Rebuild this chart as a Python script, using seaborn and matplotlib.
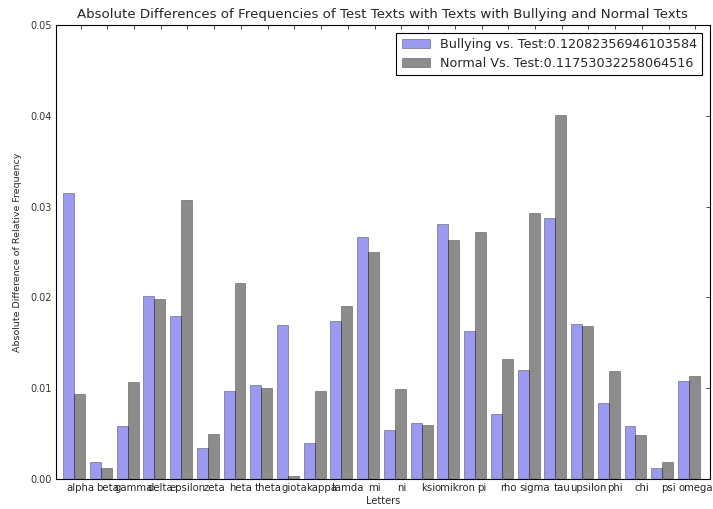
import pandas as pd
import matplotlib
matplotlib.use("Agg")
import matplotlib.pyplot as plt
import numpy as np
import seaborn as sns

letters = ['alpha', 'beta', 'gamma', 'delta', 'epsilon', 'zeta', 'heta', 'theta',
           'giota', 'kappa', 'lamda', 'mi', 'ni', 'ksi', 'omikron', 'pi', 'rho',
           'sigma', 'tau', 'upsilon', 'phi', 'chi', 'psi', 'omega']
bullying = [0.0315, 0.0019, 0.0058, 0.0201, 0.0180, 0.0034, 0.0097, 0.0104,
            0.0170, 0.0040, 0.0174, 0.0267, 0.0054, 0.0062, 0.0281, 0.0163,
            0.0072, 0.0120, 0.0287, 0.0171, 0.0084, 0.0058, 0.0012, 0.0108]
normal = [0.0094, 0.0012, 0.0107, 0.0198, 0.0307, 0.0050, 0.0216, 0.0100,
          0.0003, 0.0097, 0.0191, 0.0250, 0.0099, 0.0059, 0.0263, 0.0272,
          0.0132, 0.0293, 0.0401, 0.0168, 0.0119, 0.0048, 0.0019, 0.0113]
labels = ['Bullying vs. Test:0.12082356946103584', 'Normal Vs. Test:0.11753032258064516']

df = pd.DataFrame({'letter': letters * 2,
                   'diff': bullying + normal,
                   'series': [labels[0]] * len(letters) + [labels[1]] * len(letters)})

sns.set_style("white")
plt.rcParams['font.family'] = ['DejaVu Sans']

fig = plt.figure(figsize=(7.13, 5.09), dpi=100)
ax = fig.add_axes([0.0785, 0.059, 0.917, 0.892])

sns.barplot(data=df, x='letter', y='diff', hue='series', order=letters,
            palette={labels[0]: 'blue', labels[1]: 'black'}, alpha=0.45,
            width=0.82, edgecolor='black', linewidth=0.5, ax=ax)

ax.set_xlim(-0.68, 23.78)
ax.set_ylim(0, 0.05)
ax.set_xticks(np.arange(len(letters)) + 0.24)
ax.set_xticklabels(letters, fontsize=7.3)
ax.set_yticks([0, 0.01, 0.02, 0.03, 0.04, 0.05])
ax.set_yticklabels(['0.00', '0.01', '0.02', '0.03', '0.04', '0.05'], fontsize=7, color='#333333')
ax.tick_params(direction='in', top=True, right=True, length=3, width=0.6, pad=3)
for s in ax.spines.values():
    s.set_color('black')
    s.set_linewidth(0.8)

ax.set_xlabel('Letters', fontsize=7, labelpad=2)
ax.set_ylabel('Absolute Difference of Relative Frequency', fontsize=6.8, labelpad=6)
ax.set_title('Absolute Differences of Frequencies of Test Texts with Texts with Bullying and Normal Texts',
             fontsize=9.6, pad=5)

leg = ax.legend(loc='upper right', fontsize=9.2, fancybox=False, framealpha=1,
                edgecolor='black', borderaxespad=0.6, handlelength=2.2)
leg.get_frame().set_linewidth(0.8)

plt.savefig('out.png', dpi=100)
